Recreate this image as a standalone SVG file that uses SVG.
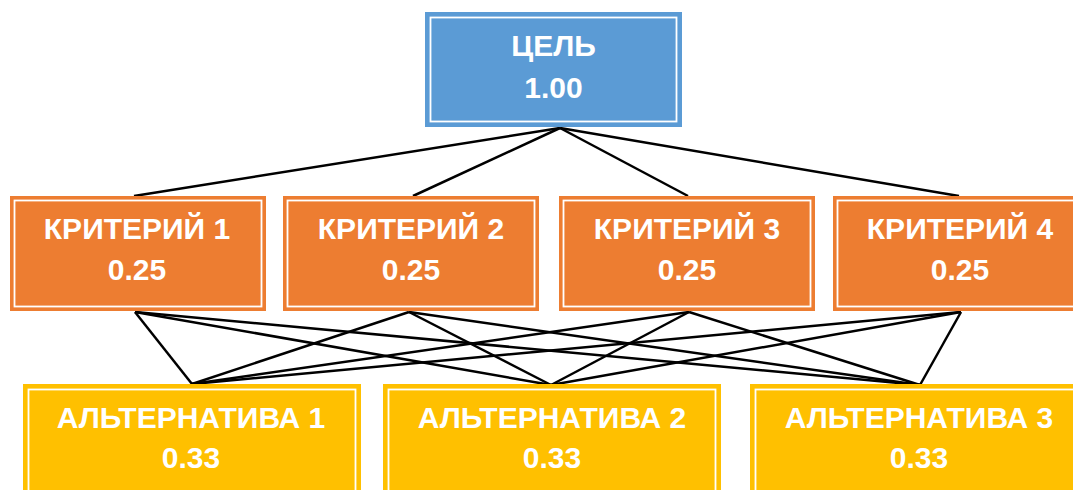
<svg xmlns="http://www.w3.org/2000/svg" width="1073" height="490" viewBox="0 0 1073 490">
<style>
.t{font-family:"Liberation Sans",Arial,sans-serif;font-weight:bold;font-size:30px;fill:#fff;text-anchor:middle}
.in{fill:none;stroke:#fff;stroke-width:1.8}
.goal{fill:#5B9BD5}
.crit{fill:#ED7D31}
.alt{fill:#FFC000}
.c line{stroke:#000;stroke-width:2.5}
</style>
<rect width="1073" height="490" fill="#fff"/>
<g class="c" id="connectors">
<line x1="560" y1="128" x2="134" y2="196"/>
<line x1="560" y1="128" x2="413" y2="196"/>
<line x1="560" y1="128" x2="688" y2="196"/>
<line x1="560" y1="128" x2="959" y2="196"/>
<line x1="135" y1="312" x2="192" y2="384"/>
<line x1="135" y1="312" x2="551" y2="385"/>
<line x1="135" y1="312" x2="920" y2="385"/>
<line x1="409" y1="312" x2="192" y2="384"/>
<line x1="409" y1="312" x2="551" y2="385"/>
<line x1="409" y1="312" x2="920" y2="385"/>
<line x1="689" y1="312" x2="192" y2="384"/>
<line x1="689" y1="312" x2="551" y2="385"/>
<line x1="689" y1="312" x2="920" y2="385"/>
<line x1="961" y1="312" x2="192" y2="384"/>
<line x1="961" y1="312" x2="551" y2="385"/>
<line x1="961" y1="312" x2="920" y2="385"/>
</g>
<g id="goal">
<rect class="goal" x="425" y="12" width="257" height="115"/>
<rect class="in" x="430.5" y="17.5" width="246" height="104"/>
<text class="t" x="553.5" y="56">ЦЕЛЬ</text>
<text class="t" x="553.5" y="98">1.00</text>
</g>
<g id="crit1">
<rect class="crit" x="10" y="196" width="256" height="115"/>
<rect class="in" x="14.5" y="200.5" width="247" height="106"/>
<text class="t" x="137" y="239">КРИТЕРИЙ 1</text>
<text class="t" x="137" y="280">0.25</text>
</g>
<g id="crit2">
<rect class="crit" x="283" y="196" width="256" height="115"/>
<rect class="in" x="287.5" y="200.5" width="247" height="106"/>
<text class="t" x="411" y="239">КРИТЕРИЙ 2</text>
<text class="t" x="411" y="280">0.25</text>
</g>
<g id="crit3">
<rect class="crit" x="559" y="196" width="256" height="115"/>
<rect class="in" x="563.5" y="200.5" width="247" height="106"/>
<text class="t" x="687" y="239">КРИТЕРИЙ 3</text>
<text class="t" x="687" y="280">0.25</text>
</g>
<g id="crit4">
<rect class="crit" x="833" y="196" width="256" height="115"/>
<rect class="in" x="837.5" y="200.5" width="247" height="106"/>
<text class="t" x="960" y="239">КРИТЕРИЙ 4</text>
<text class="t" x="960" y="280">0.25</text>
</g>
<g id="alt1">
<rect class="alt" x="23" y="384" width="338" height="120"/>
<rect class="in" x="28.5" y="389.5" width="327" height="120"/>
<text class="t" x="191" y="428">АЛЬТЕРНАТИВА 1</text>
<text class="t" x="191" y="468">0.33</text>
</g>
<g id="alt2">
<rect class="alt" x="383" y="384" width="338" height="120"/>
<rect class="in" x="388.5" y="389.5" width="327" height="120"/>
<text class="t" x="552" y="428">АЛЬТЕРНАТИВА 2</text>
<text class="t" x="552" y="468">0.33</text>
</g>
<g id="alt3">
<rect class="alt" x="750" y="384" width="338" height="120"/>
<rect class="in" x="755.5" y="389.5" width="327" height="120"/>
<text class="t" x="919" y="428">АЛЬТЕРНАТИВА 3</text>
<text class="t" x="919" y="468">0.33</text>
</g>
</svg>
